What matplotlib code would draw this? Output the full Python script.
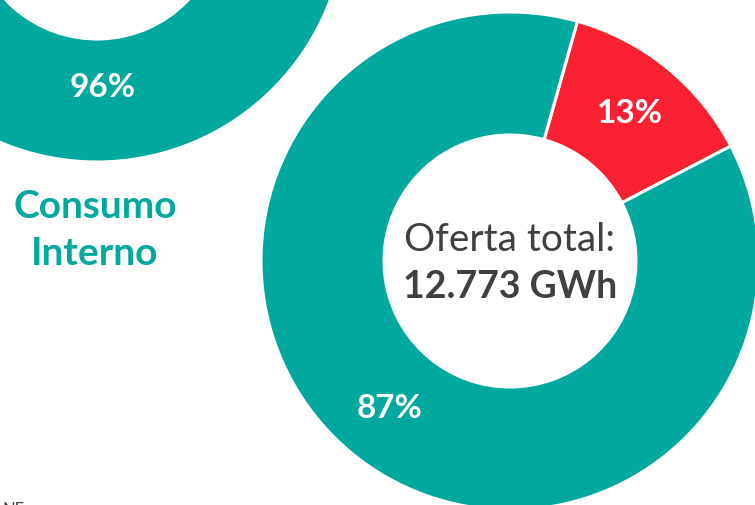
import matplotlib
matplotlib.use("Agg")
import matplotlib.pyplot as plt

# Data
oferta_labels = ["Importación", "Producción"]
oferta_values = [13, 87]
consumo_labels = ["Consumo Interno", "Otro"]
consumo_values = [96, 4]
total_title = "Oferta total:"
total_value = "12.773 GWh"
consumo_title = "Consumo\nInterno"

TEAL = "#00A89D"
RED = "#F92131"
GRAY = "#404040"
FONT = "Lato"

W, H = 755, 505
fig = plt.figure(figsize=(W / 100, H / 100), dpi=100)
ax = fig.add_axes([0, 0, 1, 1])

R = 249
WIDTH = 123

# Big donut (partly clipped)
w1, t1, a1 = ax.pie(
    oferta_values, colors=[RED, TEAL], startangle=74.3, counterclock=False,
    center=(510, H - 261), radius=R, frame=True,
    wedgeprops=dict(width=WIDTH, edgecolor="white", linewidth=2.2),
    autopct=lambda p: f"{round(p)}%", pctdistance=0.765,
    textprops=dict(color="white", fontsize=24, fontweight="bold", family=FONT),
)

# Small donut (top-left, mostly clipped)
w2, t2, a2 = ax.pie(
    consumo_values, colors=[TEAL, RED], startangle=99.2, counterclock=True,
    center=(97, H + 87), radius=R, frame=True,
    wedgeprops=dict(width=WIDTH, edgecolor="white", linewidth=2.2),
    autopct=lambda p: f"{round(p)}%" if p > 50 else "", pctdistance=0.70,
    textprops=dict(color="white", fontsize=24, fontweight="bold", family=FONT),
)

ax.text(510, H - 240, total_title, ha="center", va="center", fontsize=28,
        color=GRAY, family=FONT)
ax.text(510, H - 287, total_value, ha="center", va="center", fontsize=27,
        color=GRAY, fontweight="bold", family=FONT)
ax.text(95, H - 230, consumo_title, ha="center", va="center", fontsize=28,
        color=TEAL, fontweight="bold", family=FONT, linespacing=1.42)
ax.text(2, 3, "NE", ha="left", va="top", fontsize=12, color=GRAY, family=FONT)

ax.set_xlim(0, W)
ax.set_ylim(0, H)
ax.set_aspect("equal")
ax.axis("off")

fig.savefig("out.png", dpi=100)
